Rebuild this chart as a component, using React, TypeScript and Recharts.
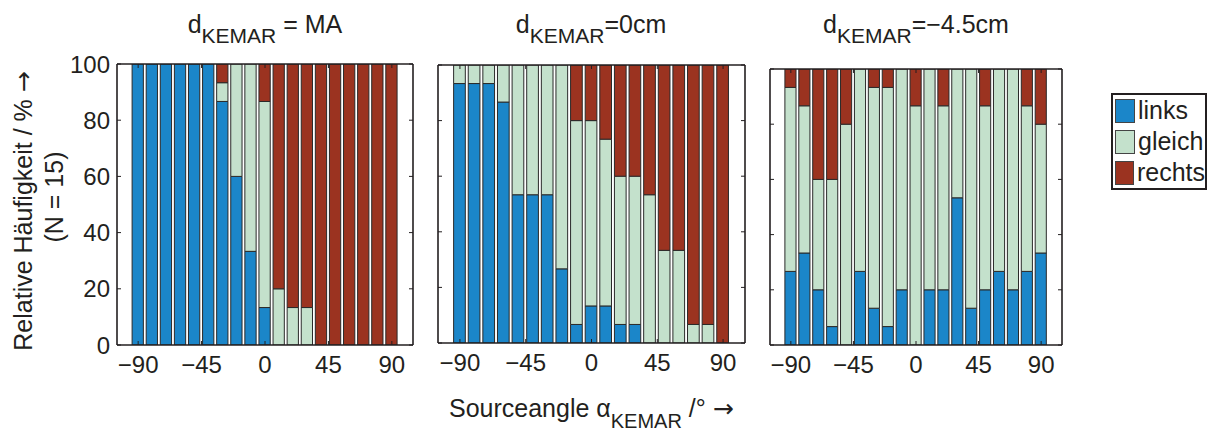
import React from 'react';
import { BarChart, Bar, XAxis, YAxis, Legend } from 'recharts';

const angles = [-90, -80, -70, -60, -50, -40, -30, -20, -10, 0, 10, 20, 30, 40, 50, 60, 70, 80, 90];
const angleTicks = [-90, -45, 0, 45, 90];
const percentTicks = [0, 20, 40, 60, 80, 100];
const seriesNames = ['links', 'gleich', 'rechts'];
const seriesColors = ['#1b86c9', '#c4e1cc', '#9b3320'];
const panelTitles = [' = MA', '=0cm', '=\u22124.5cm'];

// d_KEMAR = MA
const linksMA = [100, 100, 100, 100, 100, 100, 86.67, 60, 33.33, 13.33, 0, 0, 0, 0, 0, 0, 0, 0, 0];
const gleichMA = [0, 0, 0, 0, 0, 0, 6.67, 40, 66.67, 73.33, 20, 13.33, 13.33, 0, 0, 0, 0, 0, 0];
const rechtsMA = [0, 0, 0, 0, 0, 0, 6.66, 0, 0, 13.34, 80, 86.67, 86.67, 100, 100, 100, 100, 100, 100];

// d_KEMAR = 0cm
const links0 = [93.33, 93.33, 93.33, 86.67, 53.33, 53.33, 53.33, 26.67, 6.67, 13.33, 13.33, 6.67, 6.67, 0, 0, 0, 0, 0, 0];
const gleich0 = [6.67, 6.67, 6.67, 13.33, 46.67, 46.67, 46.67, 73.33, 73.33, 66.67, 60, 53.33, 53.33, 53.33, 33.33, 33.33, 6.67, 6.67, 0];
const rechts0 = [0, 0, 0, 0, 0, 0, 0, 0, 20, 20, 26.67, 40, 40, 46.67, 66.67, 66.67, 93.33, 93.33, 100];

// d_KEMAR = -4.5cm
const links45 = [26.67, 33.33, 20, 6.67, 0, 26.67, 13.33, 6.67, 20, 0, 20, 20, 53.33, 13.33, 20, 26.67, 20, 26.67, 33.33];
const gleich45 = [66.66, 53.34, 40, 53.33, 80, 73.33, 80, 86.66, 80, 86.67, 80, 66.67, 46.67, 86.67, 66.67, 73.33, 80, 60, 46.67];
const rechts45 = [6.67, 13.33, 40, 40, 20, 0, 6.67, 6.67, 0, 13.33, 0, 13.33, 0, 0, 13.33, 0, 0, 13.33, 20];

const FONT = '"Liberation Sans", Arial, Helvetica, sans-serif';
const ARROW_FONT = '"DejaVu Sans", sans-serif';
const INK = '#231f20';

const buildRows = (l: number[], g: number[], r: number[]) =>
  angles.map((angle, i) => ({ angle, links: l[i], gleich: g[i], rechts: r[i] }));

const minus = (v: number) => String(v).replace('-', '\u2212');
const blank = () => '';

const LegendBox = (props: any) => {
  const payload = props.payload || [];
  const items = seriesNames.map((n, i) => {
    const p = payload.find((e: any) => e.value === n);
    return { name: n, color: p ? p.color : seriesColors[i] };
  });
  return (
    <div
      style={{
        boxSizing: 'border-box',
        width: 96,
        height: 97,
        border: `2px solid ${INK}`,
        background: '#fff',
        padding: '0 0 0 2px',
        fontFamily: FONT,
      }}
    >
      {items.map((it) => (
        <div key={it.name} style={{ display: 'flex', alignItems: 'center', height: 31 }}>
          <span
            style={{
              display: 'inline-block',
              boxSizing: 'border-box',
              width: 20,
              height: 24,
              background: it.color,
              border: '1px solid #444',
              marginRight: 3,
            }}
          />
          <span style={{ fontSize: 25, color: INK, lineHeight: '31px' }}>{it.name}</span>
        </div>
      ))}
    </div>
  );
};

interface PanelProps {
  rows: ReturnType<typeof buildRows>;
  x: number; // plot left
  y: number; // plot top
  w: number;
  h: number;
  showY?: boolean;
  extraRight?: number;
  withLegend?: boolean;
}

const Panel: React.FC<PanelProps> = ({ rows, x, y, w, h, showY, extraRight = 0, withLegend }) => {
  const chartLeft = x - 70;
  const chartWidth = w + 90 + extraRight;
  const barSize = (w * 8) / 210;
  const axisStyle = { stroke: INK, strokeWidth: 1.6 };
  const tickStyle = { fontSize: 24, fill: INK, fontFamily: FONT };
  return (
    <div style={{ position: 'absolute', left: chartLeft, top: 0 }}>
      <BarChart
        width={chartWidth}
        height={432}
        data={rows}
        margin={{ top: y - 10, left: 10, right: 10 + extraRight, bottom: 432 - 40 - (y + h) }}
      >
        {seriesNames.map((n, i) => (
          <Bar
            key={n}
            dataKey={n}
            name={n}
            stackId="s"
            fill={seriesColors[i]}
            stroke="#2a2a2a"
            strokeWidth={1}
            barSize={barSize}
            isAnimationActive={false}
          />
        ))}
        <XAxis
          dataKey="angle"
          type="number"
          domain={[-105, 105]}
          ticks={angleTicks}
          allowDataOverflow
          height={40}
          tickSize={-4}
          tickMargin={15}
          tickFormatter={minus}
          tick={tickStyle}
          axisLine={axisStyle}
          tickLine={{ stroke: INK }}
        />
        <XAxis
          xAxisId="top"
          orientation="top"
          dataKey="angle"
          type="number"
          domain={[-105, 105]}
          ticks={angleTicks}
          allowDataOverflow
          height={10}
          tickSize={-4}
          tickFormatter={blank}
          axisLine={axisStyle}
          tickLine={{ stroke: INK }}
        />
        <YAxis
          type="number"
          domain={[0, 100]}
          ticks={percentTicks}
          allowDataOverflow
          width={60}
          tickSize={-4}
          tickMargin={11}
          tickFormatter={showY ? undefined : blank}
          tick={tickStyle}
          axisLine={axisStyle}
          tickLine={{ stroke: INK }}
        />
        <YAxis
          yAxisId="r"
          orientation="right"
          type="number"
          domain={[0, 100]}
          ticks={percentTicks}
          allowDataOverflow
          width={10}
          tickSize={-4}
          tickFormatter={blank}
          axisLine={axisStyle}
          tickLine={{ stroke: INK }}
        />
        {withLegend && (
          <Legend
            layout="vertical"
            align="center"
            verticalAlign="middle"
            wrapperStyle={{ left: 1111 - chartLeft, top: 93, width: 96 }}
            content={LegendBox}
          />
        )}
      </BarChart>
    </div>
  );
};

const titleCenters = [265, 591, 916];

export default function App() {
  return (
    <div
      style={{
        position: 'absolute',
        left: 0,
        top: 0,
        width: 1212,
        height: 432,
        background: '#fff',
        fontFamily: FONT,
      }}
    >
      <svg width={1212} height={432} style={{ position: 'absolute', left: 0, top: 0 }}>
        <g fontFamily={FONT} fill={INK}>
          {panelTitles.map((t, i) => (
            <text key={t} x={titleCenters[i]} y={33} textAnchor="middle" fontSize={25}>
              d
              <tspan dy={10} fontSize={21}>
                KEMAR
              </tspan>
              <tspan dy={-10}>{t}</tspan>
            </text>
          ))}
          <text transform="translate(32,211) rotate(-90)" textAnchor="middle" fontSize={25}>
            Relative Häufigkeit / %{' '}
            <tspan fontFamily={ARROW_FONT}>→</tspan>
          </text>
          <text transform="translate(63,197) rotate(-90)" textAnchor="middle" fontSize={25}>
            (N = 15)
          </text>
          <text x={449} y={417} fontSize={25}>
            Sourceangle α
            <tspan dy={11} fontSize={20}>
              KEMAR
            </tspan>
            <tspan dy={-11}> /° </tspan>
            <tspan fontFamily={ARROW_FONT}>→</tspan>
          </text>
        </g>
      </svg>
      <Panel rows={buildRows(linksMA, gleichMA, rechtsMA)} x={117} y={64} w={296} h={281} showY />
      <Panel rows={buildRows(links0, gleich0, rechts0)} x={438} y={65} w={307} h={278} />
      <Panel
        rows={buildRows(links45, gleich45, rechts45)}
        x={770}
        y={69}
        w={292}
        h={276}
        extraRight={1212 - (770 - 70) - (292 + 90)}
        withLegend
      />
    </div>
  );
}
